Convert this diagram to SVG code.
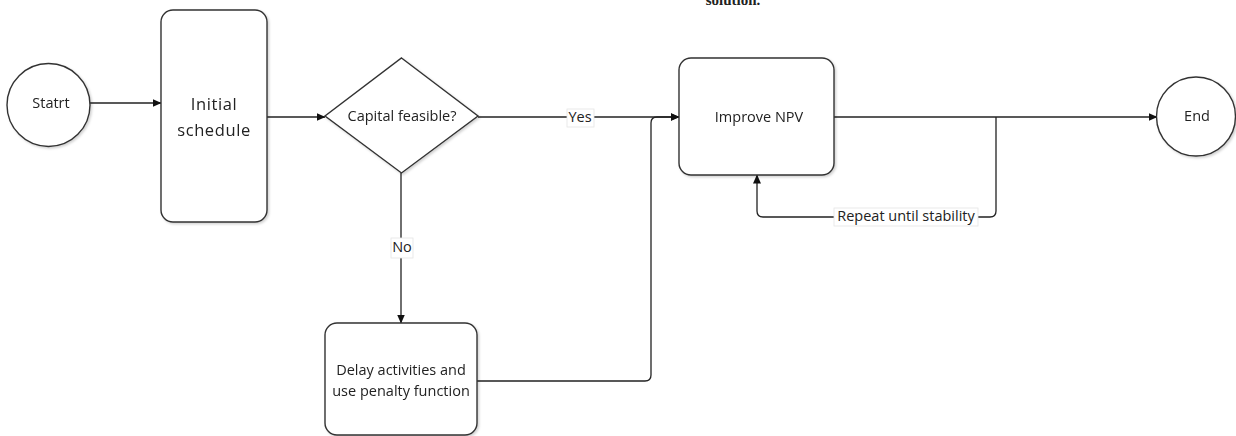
<svg xmlns="http://www.w3.org/2000/svg" width="1236" height="436" viewBox="0 0 1236 436">
<style>
.n{fill:#fff;stroke:#333;stroke-width:1.4}
.t{font-family:"Open Sans","Liberation Sans",sans-serif;font-size:14.5px;fill:#222;text-anchor:middle;dominant-baseline:middle}
.c{fill:none;stroke:#222;stroke-width:1.3}
.lb{fill:#fff;stroke:#e4e4e4;stroke-width:0.8}
</style>
<defs>
<marker id="a" markerWidth="9" markerHeight="8" refX="8.5" refY="4" orient="auto" markerUnits="userSpaceOnUse">
<path d="M0,0 L9,4 L0,8 Z" fill="#111"/>
</marker>
<filter id="s" x="-10%" y="-10%" width="130%" height="130%">
<feDropShadow dx="1.5" dy="1.5" stdDeviation="1" flood-color="#000" flood-opacity="0.18"/>
</filter>
</defs>
<rect width="1236" height="436" fill="#fff"/>
<text x="733" y="5" font-family="Liberation Serif,serif" font-size="15" font-weight="bold" fill="#222" text-anchor="middle">solution.</text>
<g id="connectors">
<path class="c" d="M90,103 H161" marker-end="url(#a)"/>
<path class="c" d="M267,117 H325" marker-end="url(#a)"/>
<path class="c" d="M478,117 H679" marker-end="url(#a)"/>
<path class="c" d="M401,173 V323" marker-end="url(#a)"/>
<path class="c" d="M477,381 H645 Q651,381 651,375 V123 Q651,117 657,117 H679" marker-end="url(#a)"/>
<path class="c" d="M834,117 H1157" marker-end="url(#a)"/>
<path class="c" d="M996,117 V211 Q996,217 990,217 H763 Q757,217 757,211 V175" marker-end="url(#a)"/>
<rect class="lb" x="567" y="109" width="27" height="18"/>
<text class="t" x="580" y="118">Yes</text>
<rect class="lb" x="391" y="238" width="22" height="20"/>
<text class="t" x="402" y="248">No</text>
<rect class="lb" x="834" y="208" width="144" height="18"/>
<text class="t" x="906" y="217">Repeat until stability</text>
</g>
<g id="start" filter="url(#s)">
<circle class="n" cx="48.5" cy="105" r="41.5"/>
<text class="t" x="51" y="104">Statrt</text>
</g>
<g id="initial" filter="url(#s)">
<rect class="n" x="161" y="10" width="106" height="212" rx="12"/>
<text class="t" x="214" y="106" style="font-size:16.5px;letter-spacing:0.6px">Initial</text>
<text class="t" x="214" y="132" style="font-size:16.5px;letter-spacing:0.6px">schedule</text>
</g>
<g id="capital" filter="url(#s)">
<polygon class="n" points="401.5,58 478,116 401.5,173 325,116"/>
<text class="t" x="402" y="117">Capital feasible?</text>
</g>
<g id="delay" filter="url(#s)">
<rect class="n" x="325" y="323" width="152" height="112" rx="12"/>
<text class="t" x="401" y="371">Delay activities and</text>
<text class="t" x="401" y="392">use penalty function</text>
</g>
<g id="improve" filter="url(#s)">
<rect class="n" x="679" y="58" width="155" height="117" rx="12"/>
<text class="t" x="759" y="118">Improve NPV</text>
</g>
<g id="end" filter="url(#s)">
<circle class="n" cx="1196" cy="116.5" r="39.5"/>
<text class="t" x="1197" y="117">End</text>
</g>
</svg>
